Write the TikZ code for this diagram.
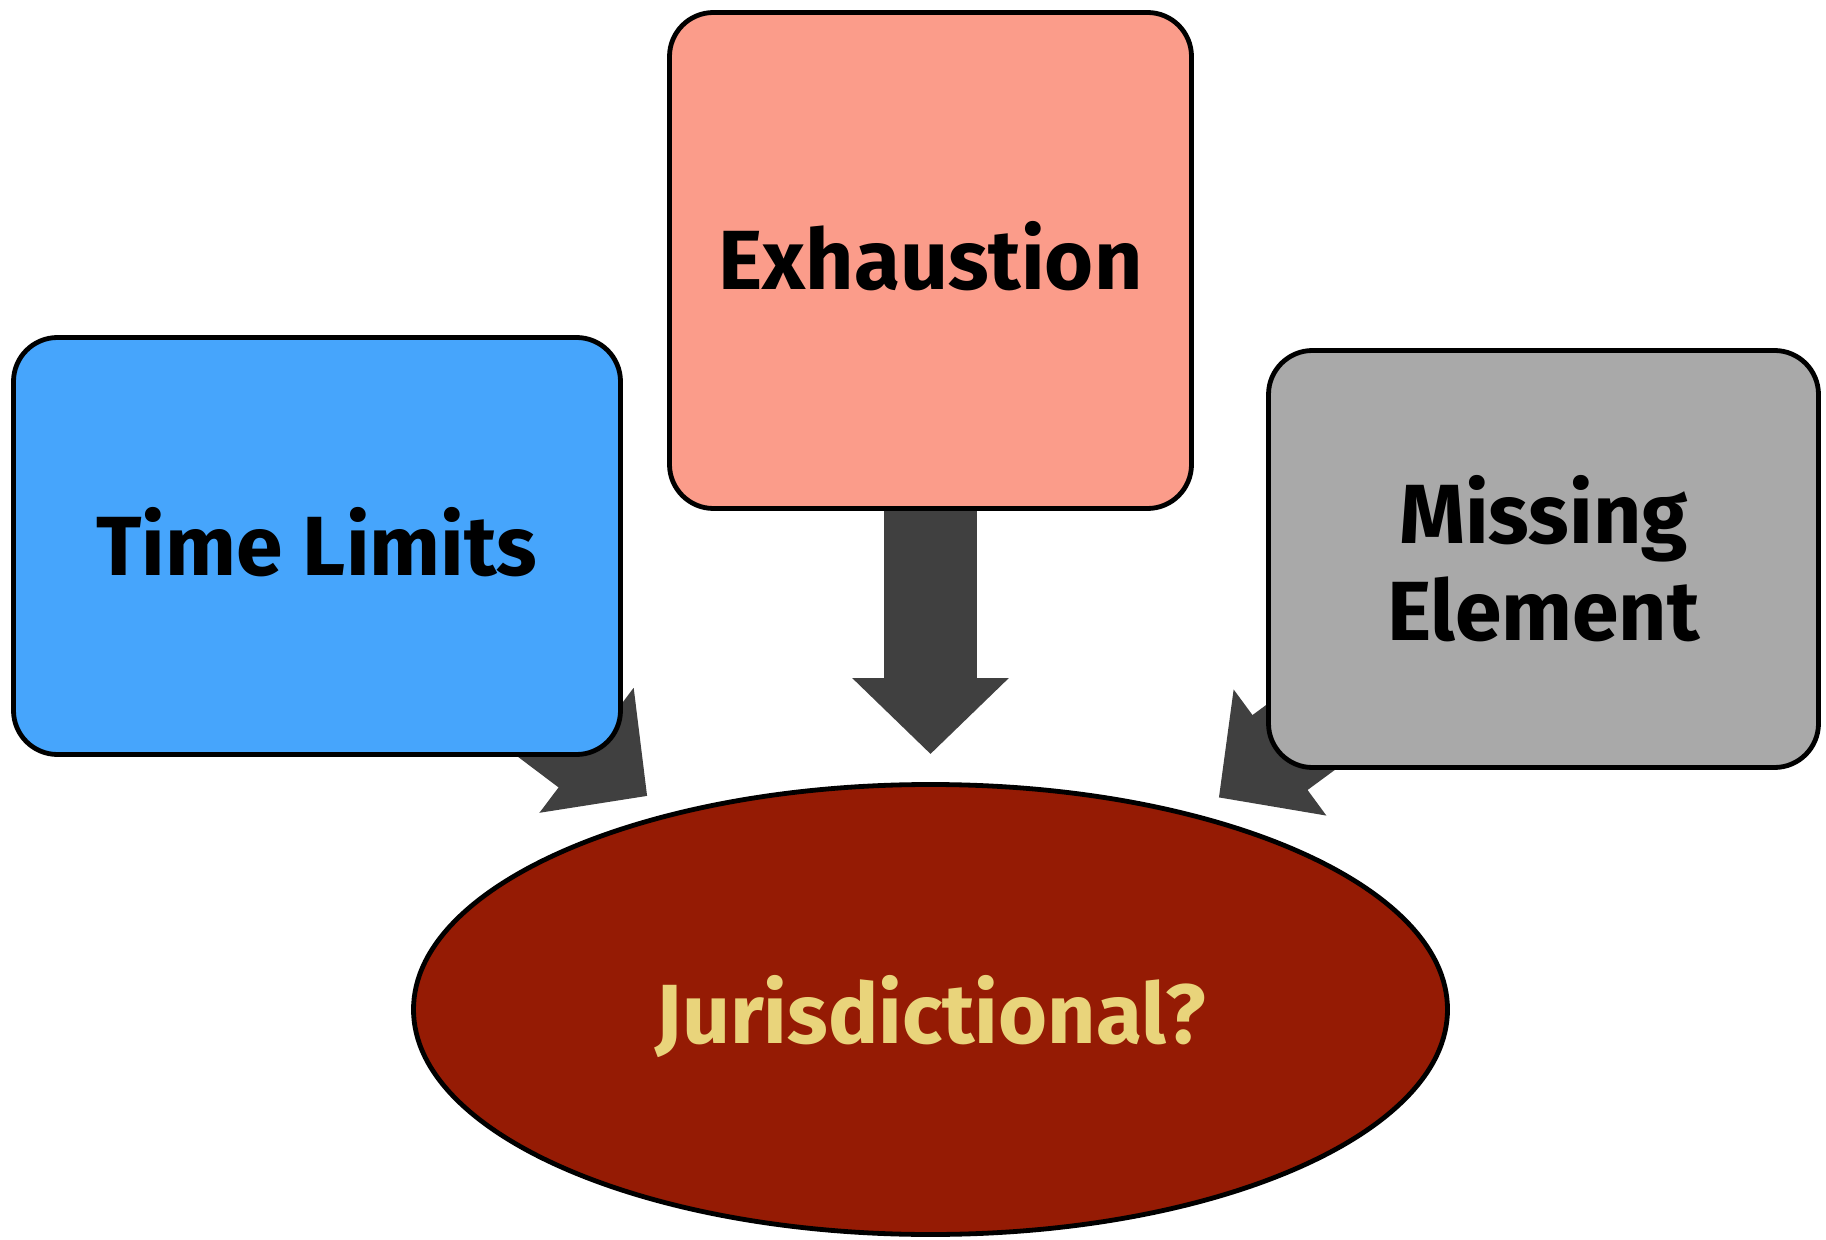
\documentclass[tikz,border=0pt]{standalone}
\usepackage{fontspec}
\setmainfont{Fira Sans}
\usetikzlibrary{arrows.meta,backgrounds,shapes.geometric}
\definecolor{JurBlue}{HTML}{46A5FC}
\definecolor{JurSalmon}{HTML}{FB9C8A}
\definecolor{JurGray}{HTML}{A9A9A9}
\definecolor{JurRed}{HTML}{951B04}
\definecolor{JurGold}{HTML}{E9D47B}
\definecolor{JurArrow}{HTML}{404040}
\tikzset{
  issuebox/.style={draw=black,line width=2.4pt,rounded corners=22pt,align=center,
    inner sep=0pt,font=\fontsize{42}{48.5}\selectfont\bfseries},
  questionnode/.style={ellipse,draw=black,line width=2.4pt,fill=JurRed,inner sep=0pt,
    text=JurGold,text depth=0pt,font=\fontsize{42}{48.5}\selectfont\bfseries},
  bigflow/.style={draw=JurArrow,line width=46.5pt,-{Triangle[length=38pt,width=76pt]},
    shorten >=14pt}
}

\begin{document}
\begin{tikzpicture}[x=0.5pt,y=-0.5pt]
  \useasboundingbox (0,0) rectangle (1826,1240);

  \node[issuebox,fill=JurBlue,text depth=4.6pt,minimum width=303.5pt,minimum height=208.5pt] (timelim) at (317,546) {Time Limits};
  \node[issuebox,fill=JurSalmon,text depth=4.6pt,minimum width=261pt,minimum height=248pt] (exhaust) at (930.5,260.5) {Exhaustion};
  \node[issuebox,fill=JurGray,minimum width=275pt,minimum height=208.5pt] (missing) at (1543.5,559) {Missing\\Element};
  \node[questionnode,minimum width=517pt,minimum height=225pt] (jur) at (930.5,1009.5) {Jurisdictional?};

  \coordinate (timelim-src) at (451.5,648.5);
  \coordinate (missing-src) at (1414,654);

  \begin{scope}[on background layer]
    \draw[bigflow] (exhaust) -- (jur);
    \draw[bigflow] (timelim-src) -- (jur);
    \draw[bigflow] (missing-src) -- (jur);
  \end{scope}
\end{tikzpicture}
\end{document}
